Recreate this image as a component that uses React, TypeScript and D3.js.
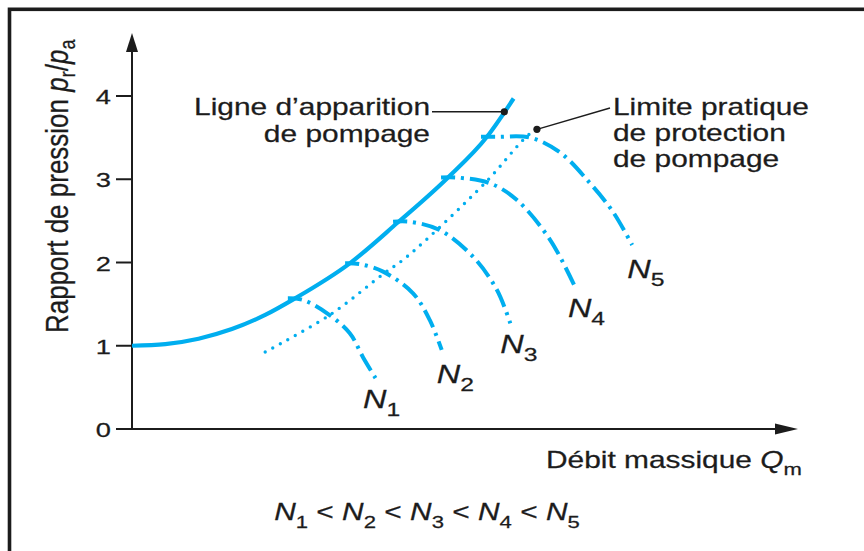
import React from 'react';
import * as d3 from 'd3';

const W = 864;
const H = 551;

// Pressure ratio ticks on the vertical axis
const yTicks = [0, 1, 2, 3, 4];

// Surge line "Ligne d'apparition de pompage": [mass flow, pressure ratio]
const surgeLine: [number, number][] = [
  [0, 1.0], [0.5, 1.02], [1.0, 1.085], [1.5, 1.2], [2.0, 1.37], [2.45, 1.57],
  [3.27, 1.99], [3.99, 2.48], [4.73, 3.01], [5.33, 3.51], [5.73, 3.97],
];

// Practical surge protection limit (dotted)
const surgeLimit: [number, number][] = [
  [2.0, 0.925], [2.97, 1.37], [3.77, 1.86], [4.13, 2.07], [5.33, 2.98], [5.87, 3.47], [6.14, 3.66],
];

// Constant rotation speed lines N1..N5
const speedN1: [number, number][] = [[2.34, 1.57], [2.57, 1.55], [2.93, 1.39], [3.27, 1.15], [3.47, 0.86], [3.68, 0.58]];
const speedN2: [number, number][] = [[3.2, 1.99], [3.42, 1.98], [3.77, 1.89], [4.22, 1.63], [4.47, 1.31], [4.65, 0.95]];
const speedN3: [number, number][] = [[3.92, 2.49], [4.17, 2.49], [4.62, 2.39], [5.12, 2.07], [5.48, 1.67], [5.68, 1.27]];
const speedN4: [number, number][] = [[4.64, 3.02], [4.89, 3.02], [5.38, 2.95], [5.78, 2.75], [6.28, 2.27], [6.65, 1.71]];
const speedN5: [number, number][] = [[5.24, 3.51], [5.5, 3.51], [5.98, 3.5], [6.43, 3.32], [6.88, 2.95], [7.22, 2.61], [7.51, 2.21]];
const speedLines = [speedN1, speedN2, speedN3, speedN4, speedN5];
const speedNames = ['1', '2', '3', '4', '5'];

// Annotation anchor points
const surgeMarker: [number, number] = [5.59, 3.81];
const limitMarker: [number, number] = [6.08, 3.6];

const CYAN = '#00aeef';
const INK = '#1c1c1c';
const FONT = "'Liberation Sans', Arial, Helvetica, sans-serif";
const HS = 1.3; // horizontal stretch of the lettering

const x = d3.scaleLinear().domain([0, 10]).range([132, 798]);
const y = d3.scaleLinear().domain([0, 4]).range([429, 96]);

const curve = d3
  .line<[number, number]>()
  .x((d) => x(d[0]))
  .y((d) => y(d[1]))
  .curve(d3.curveCatmullRom.alpha(0.5));

const smooth = d3
  .line<[number, number]>()
  .x((d) => x(d[0]))
  .y((d) => y(d[1]))
  .curve(d3.curveMonotoneX);

function Label(props: {
  px: number;
  py: number;
  size?: number;
  anchor?: 'start' | 'middle' | 'end';
  children: React.ReactNode;
}) {
  const { px, py, size = 23, anchor = 'start', children } = props;
  return (
    <text
      transform={`translate(${px},${py}) scale(${HS},1)`}
      fontSize={size}
      textAnchor={anchor}
      fill={INK}
      fontFamily={FONT}
      stroke={INK}
      strokeWidth={0.25}
    >
      {children}
    </text>
  );
}

// Offsets of the N labels from the last point of each speed line
const labelOffsets: [number, number][] = [[-14, 27], [-5, 33], [-10, 30], [-7, 30], [-5, 33]];

export default function App() {
  const y0 = y(0);
  const x0 = x(0);
  const [sx, sy] = [x(surgeMarker[0]), y(surgeMarker[1])];
  const [lx, ly] = [x(limitMarker[0]), y(limitMarker[1])];

  return (
    <svg
      width={W}
      height={H}
      viewBox={`0 0 ${W} ${H}`}
      style={{ position: 'absolute', left: 0, top: 0, display: 'block', background: '#fff' }}
    >
      {/* frame */}
      <rect x={9.5} y={9.3} width={W + 20} height={H + 20} fill="none" stroke={INK} strokeWidth={3.6} />

      {/* axes */}
      <line x1={x0} y1={y0} x2={x0} y2={50} stroke={INK} strokeWidth={2} />
      <path d={`M${x0},33 L${x0 - 6},52 L${x0 + 6},52 Z`} fill={INK} />
      <line x1={x0 - 16} y1={y0} x2={778} y2={y0} stroke={INK} strokeWidth={2} />
      <path d={`M798,${y0} L775,${y0 - 5.5} L775,${y0 + 5.5} Z`} fill={INK} />

      {yTicks.map((t) => (
        <g key={t}>
          <line x1={x0 - 16} x2={x0} y1={y(t)} y2={y(t)} stroke={INK} strokeWidth={2} />
          <Label px={x0 - 21} py={y(t) + 8} size={21} anchor="end">
            {String(t)}
          </Label>
        </g>
      ))}

      {/* vertical axis title */}
      <text
        transform={`translate(68,333) scale(1.2,1) rotate(-90)`}
        fontSize={26}
        fill={INK}
        fontFamily={FONT}
        stroke={INK}
        strokeWidth={0.25}
      >
        Rapport de pression <tspan fontStyle="italic">p</tspan>
        <tspan fontSize={18} dy={6}>r</tspan>
        <tspan dy={-6}>/</tspan>
        <tspan fontStyle="italic">p</tspan>
        <tspan fontSize={18} dy={6}>a</tspan>
      </text>

      {/* horizontal axis title */}
      <Label px={546} py={468}>
        Débit massique <tspan fontStyle="italic">Q</tspan>
        <tspan fontSize={17} dy={7}>m</tspan>
      </Label>

      {/* practical surge protection limit */}
      <path
        d={curve(surgeLimit) || ''}
        fill="none"
        stroke={CYAN}
        strokeWidth={3.4}
        strokeLinecap="round"
        strokeDasharray="0 8.6"
      />

      {/* constant speed lines */}
      {speedLines.map((pts, i) => (
        <path
          key={i}
          d={curve(pts) || ''}
          fill="none"
          stroke={CYAN}
          strokeWidth={4}
          strokeDasharray="14 6 3 6 19 6 3 6 19 6 3 6 19 6 3 6 19 6 3 6 19 6 3 6 19 6 3 6 19 6 3 6"
        />
      ))}

      {/* surge line */}
      <path d={smooth(surgeLine) || ''} fill="none" stroke={CYAN} strokeWidth={4.2} />

      {/* speed labels */}
      {speedLines.map((pts, i) => {
        const last = pts[pts.length - 1];
        const [dx, dy] = labelOffsets[i];
        return (
          <Label key={i} px={x(last[0]) + dx} py={y(last[1]) + dy} size={25}>
            <tspan fontStyle="italic">N</tspan>
            <tspan fontSize={19} dy={8}>{speedNames[i]}</tspan>
          </Label>
        );
      })}

      {/* annotations */}
      <line x1={432} y1={sy} x2={sx} y2={sy} stroke={INK} strokeWidth={1.6} />
      <circle cx={sx} cy={sy} r={3.6} fill={INK} />
      <Label px={430} py={115} anchor="end">Ligne d’apparition</Label>
      <Label px={430} py={142} anchor="end">de pompage</Label>

      <line x1={lx} y1={ly} x2={610} y2={108} stroke={INK} strokeWidth={1.4} />
      <circle cx={lx} cy={ly} r={3.6} fill={INK} />
      <Label px={613} py={115}>Limite pratique</Label>
      <Label px={613} py={141}>de protection</Label>
      <Label px={613} py={167}>de pompage</Label>

      {/* speed ordering */}
      <Label px={427} py={520} size={23} anchor="middle">
        {speedNames.map((n, i) => (
          <React.Fragment key={n}>
            <tspan fontStyle="italic">N</tspan>
            <tspan fontSize={17} dy={8}>{n}</tspan>
            <tspan dy={-8}>{i < speedNames.length - 1 ? ' < ' : ''}</tspan>
          </React.Fragment>
        ))}
      </Label>
    </svg>
  );
}
